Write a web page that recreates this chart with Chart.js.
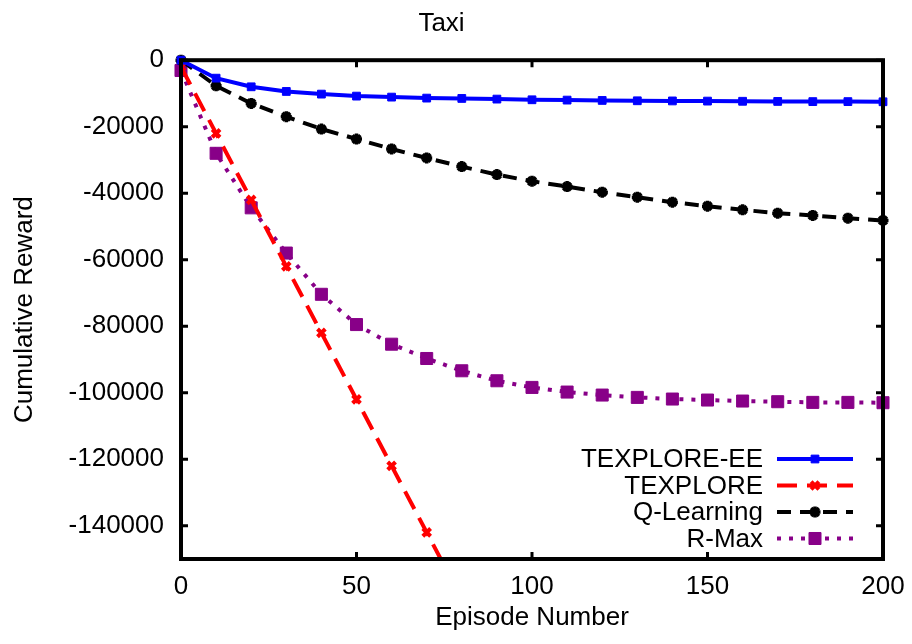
<!DOCTYPE html>
<html>
<head>
<meta charset="utf-8">
<title>Taxi</title>
<script src="https://cdn.jsdelivr.net/npm/chart.js@4.4.1/dist/chart.umd.min.js"></script>
<style>
  html, body { margin: 0; padding: 0; background: #fff; overflow: hidden; }
  #wrap { width: 912px; height: 644px; }
  canvas { display: block; }
</style>
</head>
<body>
<div id="wrap"><canvas id="chart" width="912" height="644"></canvas></div>
<script>
// Cumulative reward per episode, Taxi domain
const episodes = [0, 10, 20, 30, 40, 50, 60, 70, 80, 90, 100, 110, 120, 130, 140, 150, 160, 170, 180, 190, 200];
const texploreEE = [0, -5400, -8000, -9400, -10200, -10800, -11100, -11400, -11500, -11700, -11900, -12000, -12100, -12200, -12250, -12300, -12350, -12400, -12450, -12450, -12500];
const texploreEpisodes = [0, 10, 20, 30, 40, 50, 60, 70, 80];
const texplore = [-2000, -22000, -42000, -62000, -82000, -102000, -122000, -142000, -162000];
const qLearning = [0, -7700, -13000, -17000, -20700, -23700, -26700, -29400, -32000, -34400, -36400, -38000, -39700, -41200, -42700, -43900, -45000, -46000, -46700, -47500, -48200];
const rMax = [-3100, -28000, -44400, -58000, -70400, -79500, -85400, -89700, -93400, -96400, -98400, -99800, -100700, -101400, -101900, -102200, -102500, -102700, -102900, -102900, -103000];

const xTicks = [0, 50, 100, 150, 200];
const yTicks = [0, -20000, -40000, -60000, -80000, -100000, -120000, -140000];

const FONT = { family: '"Liberation Sans", Arial, Helvetica, sans-serif', size: 26 };
Chart.defaults.color = '#000';
Chart.defaults.font.family = FONT.family;
Chart.defaults.font.size = FONT.size;

const toPoints = (xs, ys) => xs.map((x, i) => ({ x: x, y: ys[i] }));

// Inward tick marks on all four sides plus the heavy frame
const framePlugin = {
  id: 'frame',
  afterDatasetsDraw(chart) {
    const { ctx, chartArea: a, scales } = chart;
    const len = 7;
    ctx.save();
    ctx.strokeStyle = '#000';
    ctx.lineWidth = 3;
    ctx.setLineDash([]);
    xTicks.forEach(v => {
      const px = scales.x.getPixelForValue(v);
      ctx.beginPath();
      ctx.moveTo(px, a.bottom); ctx.lineTo(px, a.bottom - len);
      ctx.moveTo(px, a.top); ctx.lineTo(px, a.top + len);
      ctx.stroke();
    });
    yTicks.forEach(v => {
      const py = scales.y.getPixelForValue(v);
      ctx.beginPath();
      ctx.moveTo(a.left, py); ctx.lineTo(a.left + len, py);
      ctx.moveTo(a.right, py); ctx.lineTo(a.right - len, py);
      ctx.stroke();
    });
    ctx.lineWidth = 4;
    ctx.strokeRect(a.left, a.top, a.right - a.left, a.bottom - a.top);
    ctx.restore();
  }
};

// Key in the lower right corner: label text, then a line sample with its marker
const keyPlugin = {
  id: 'key',
  afterDraw(chart) {
    const { ctx, chartArea: a } = chart;
    const sampleRight = a.right - 30;
    const sampleLeft = sampleRight - 76;
    const textRight = sampleLeft - 14;
    const rowGap = 26.5;
    const firstRow = a.bottom - 100;
    ctx.save();
    ctx.font = FONT.size + 'px ' + FONT.family;
    ctx.textAlign = 'right';
    ctx.textBaseline = 'middle';
    chart.data.datasets.forEach((ds, i) => {
      const y = firstRow + i * rowGap;
      ctx.fillStyle = '#000';
      ctx.fillText(ds.label, textRight, y + 1);
      ctx.strokeStyle = ds.borderColor;
      ctx.lineWidth = ds.borderWidth;
      ctx.lineCap = 'butt';
      ctx.setLineDash(ds.borderDash || []);
      ctx.beginPath();
      ctx.moveTo(sampleLeft, y);
      ctx.lineTo(sampleRight, y);
      ctx.stroke();
      ctx.setLineDash([]);
      ctx.fillStyle = ds.pointBackgroundColor;
      ctx.strokeStyle = ds.pointBorderColor;
      ctx.lineWidth = ds.pointBorderWidth;
      Chart.helpers.drawPoint(ctx, {
        pointStyle: ds.pointStyle,
        radius: ds.pointRadius,
        rotation: 0,
        borderWidth: ds.pointBorderWidth
      }, (sampleLeft + sampleRight) / 2, y);
    });
    ctx.restore();
  }
};

new Chart(document.getElementById('chart'), {
  type: 'line',
  data: {
    datasets: [
      {
        label: 'TEXPLORE-EE',
        data: toPoints(episodes, texploreEE),
        borderColor: '#0000ff',
        borderWidth: 4,
        pointStyle: 'rect',
        pointRadius: 5.5,
        pointBorderWidth: 1,
        pointBackgroundColor: '#0000ff',
        pointBorderColor: '#0000ff',
        clip: 10
      },
      {
        label: 'TEXPLORE',
        data: toPoints(texploreEpisodes, texplore),
        borderColor: '#ff0000',
        borderWidth: 4,
        borderDash: [20, 10],
        pointStyle: 'crossRot',
        pointRadius: 5.5,
        pointBorderWidth: 4,
        pointBackgroundColor: '#ff0000',
        pointBorderColor: '#ff0000',
        clip: 2
      },
      {
        label: 'Q-Learning',
        data: toPoints(episodes, qLearning),
        borderColor: '#000000',
        borderWidth: 4,
        borderDash: [14, 9],
        pointStyle: 'star',
        pointRadius: 5.5,
        pointBorderWidth: 3.5,
        pointBackgroundColor: '#000000',
        pointBorderColor: '#000000',
        clip: 10
      },
      {
        label: 'R-Max',
        data: toPoints(episodes, rMax),
        borderColor: '#880088',
        borderWidth: 4,
        borderDash: [4, 8],
        pointStyle: 'rect',
        pointRadius: 8.5,
        pointBorderWidth: 1,
        pointBackgroundColor: '#880088',
        pointBorderColor: '#880088',
        clip: 10
      }
    ]
  },
  options: {
    responsive: false,
    animation: false,
    events: [],
    layout: { padding: { left: 0, right: 29, top: 0, bottom: 0 } },
    plugins: {
      legend: { display: false },
      tooltip: { enabled: false },
      title: {
        display: true,
        text: 'Taxi',
        color: '#000',
        font: { size: 26, weight: 'normal' },
        padding: { top: 8, bottom: 21 }
      }
    },
    scales: {
      x: {
        type: 'linear',
        min: 0,
        max: 200,
        grid: { display: false, drawTicks: false },
        border: { display: false },
        afterBuildTicks: s => { s.ticks = xTicks.map(v => ({ value: v })); },
        ticks: { padding: 12, maxRotation: 0, font: { size: 26 } },
        title: { display: true, text: 'Episode Number', font: { size: 26 }, padding: { top: 0, bottom: 11 } },
        afterFit: s => { s.height = 85; s.paddingLeft = 0; s.paddingRight = 0; }
      },
      y: {
        type: 'linear',
        min: -150000,
        max: 0,
        grid: { display: false, drawTicks: false },
        border: { display: false },
        afterBuildTicks: s => { s.ticks = yTicks.map(v => ({ value: v })); },
        ticks: { padding: 17, font: { size: 26 }, callback: v => String(v) },
        title: { display: true, text: 'Cumulative Reward', font: { size: 26 }, padding: { top: 9, bottom: 0 } },
        afterFit: s => { s.width = 181; s.paddingTop = 0; s.paddingBottom = 0; }
      }
    }
  },
  plugins: [framePlugin, keyPlugin]
});
</script>
</body>
</html>
